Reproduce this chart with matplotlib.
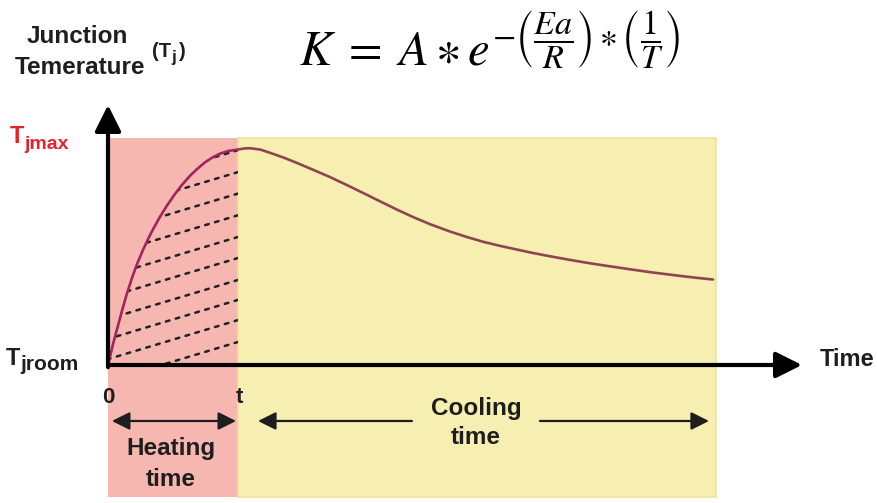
import matplotlib
matplotlib.use("Agg")
from matplotlib import pyplot as plt
from matplotlib.patches import Polygon

# Schematic data (time in units of heating time, temperature: 0 = Tjroom, 1 = Tjmax)
t_heat = 1.0
t_cool_end = 4.677
region_top = 1.046
region_bottom = -0.608

heat_t = [0, 0.038, 0.077, 0.108, 0.146, 0.185, 0.223, 0.269, 0.308, 0.346, 0.400,
          0.454, 0.515, 0.569, 0.631, 0.685, 0.746, 0.808, 0.862, 0.923, 1.0]
heat_T = [0, 0.095, 0.182, 0.250, 0.330, 0.402, 0.465, 0.530, 0.580, 0.625, 0.683,
          0.735, 0.788, 0.830, 0.872, 0.903, 0.934, 0.958, 0.974, 0.986, 0.993]

cool_t = [1.0, 1.05, 1.092, 1.17, 1.246, 1.35, 1.454, 1.58, 1.708, 1.835, 1.962, 2.09,
          2.223, 2.35, 2.477, 2.631, 2.76, 2.885, 3.015, 3.146, 3.27, 3.400, 3.53,
          3.654, 3.78, 3.915, 4.04, 4.169, 4.30, 4.423, 4.54, 4.654]
cool_T = [0.993, 0.998, 0.999, 0.993, 0.978, 0.956, 0.931, 0.899, 0.866, 0.830, 0.793,
          0.755, 0.716, 0.681, 0.649, 0.615, 0.590, 0.568, 0.549, 0.532, 0.516, 0.501,
          0.487, 0.474, 0.462, 0.450, 0.439, 0.428, 0.418, 0.409, 0.401, 0.394]

# dashed lines under the heating curve: value where each line meets t = t_heat
hatch_ends = [0.106, 0.207, 0.300, 0.392, 0.493, 0.590, 0.690, 0.790, 0.889, 0.990]
hatch_slope = 0.18

W, H = 877, 503
fig = plt.figure(figsize=(W / 100, H / 100), dpi=100)
ax = fig.add_axes([0, 0, 1, 1])
ax.set_xlim(-108 / 130, (W - 108) / 130)
ax.set_ylim(-138 / 217, (H - 138) / 217)
ax.axis('off')

FONT = 'Liberation Sans'
INK = '#1e1e1e'

def ft(x, y, s, **kw):
    """text placed by pixel position of the reference"""
    kw.setdefault('family', FONT)
    kw.setdefault('weight', 'bold')
    kw.setdefault('color', INK)
    fig.text(x / W, 1 - y / H, s, **kw)

# background regions
ax.fill_between([0, t_heat], region_bottom, region_top, color='#F6B7B1', lw=0, zorder=1)
ax.fill_between([t_heat, t_cool_end], region_bottom, region_top, facecolor='#F7EEB1',
                edgecolor='#EFE29C', lw=1.2, zorder=1)

# hatching under the heating curve
clip = Polygon(list(zip(heat_t, heat_T)) + [(t_heat, 0), (0, 0)], closed=True,
               transform=ax.transData, facecolor='none', edgecolor='none')
ax.add_patch(clip)
for c in hatch_ends:
    xs = [-2, t_heat]
    ys = [c + hatch_slope * (x - t_heat) for x in xs]
    ln, = ax.plot(xs, ys, color='#222222', lw=1.8, linestyle=(0, (1.5, 2.6)),
                  dash_capstyle='round', zorder=3)
    ln.set_clip_path(clip)

# junction temperature curve
ax.plot(heat_t, heat_T, color='#A2245E', lw=1.9, zorder=4, solid_capstyle='round',
        solid_joinstyle='round')
ax.plot(cool_t, cool_T, color='#8E4552', lw=1.9, zorder=4, solid_capstyle='round',
        solid_joinstyle='round')

# axes arrows
axis_arrow = dict(arrowstyle='-|>,head_length=1.0,head_width=0.5',
                  color='black', lw=3, mutation_scale=16, shrinkA=0, shrinkB=0)
ax.annotate('', xy=(0, 1.198), xytext=(0, -0.01), arrowprops=axis_arrow, zorder=5)
ax.annotate('', xy=(5.338, 0), xytext=(0, 0), arrowprops=axis_arrow, zorder=5)

# heating / cooling span arrows
span_y = -0.258
ax.annotate('', xy=(t_heat - 0.015, span_y), xytext=(0.03, span_y),
            arrowprops=dict(arrowstyle='<|-|>,head_length=0.9,head_width=0.45',
                            color=INK, lw=1.6, mutation_scale=12, shrinkA=0, shrinkB=0))
span_arrow = dict(arrowstyle='-|>,head_length=0.9,head_width=0.45',
                  color=INK, lw=1.6, mutation_scale=12, shrinkA=0, shrinkB=0)
ax.annotate('', xy=(t_heat + 0.154, span_y), xytext=(2.338, span_y), arrowprops=span_arrow)
ax.annotate('', xy=(t_cool_end - 0.054, span_y), xytext=(3.323, span_y), arrowprops=span_arrow)

# labels
ft(77, 37, 'Junction', fontsize=17.5, ha='center', va='center')
ft(80, 68, 'Temerature', fontsize=17.5, ha='center', va='center')
ft(152, 57, '(T', fontsize=14.5, ha='left', va='baseline')
ft(171, 62, 'j', fontsize=12.5, ha='left', va='baseline')
ft(179, 57, ')', fontsize=14.5, ha='left', va='baseline')

ft(10, 143, 'T', fontsize=17, ha='left', va='baseline', color='#E8202A')
ft(24, 149, 'jmax', fontsize=14, ha='left', va='baseline', color='#E8202A')
ft(6, 365, 'T', fontsize=17, ha='left', va='baseline')
ft(20, 370, 'jroom', fontsize=15, ha='left', va='baseline')

ft(108, 403, '0', fontsize=16, ha='center', va='baseline')
ft(239, 403, 't', fontsize=16, ha='center', va='baseline')
ft(820, 360, 'Time', fontsize=17, ha='left', va='center')

ft(171, 448, 'Heating', fontsize=17.5, ha='center', va='center')
ft(171, 480, 'time', fontsize=17.5, ha='center', va='center')
ft(476, 408, 'Cooling', fontsize=17.5, ha='center', va='center')
ft(476, 438, 'time', fontsize=17.5, ha='center', va='center')

fig.text(489 / W, 1 - 45 / H,
         r'$K\;=\;A\ast e^{-\left(\dfrac{Ea}{R}\right)\ast\left(\dfrac{1}{T}\right)}$',
         fontsize=35, math_fontfamily='stix', ha='center', va='center', color='black')

fig.savefig('out.png', dpi=100)
